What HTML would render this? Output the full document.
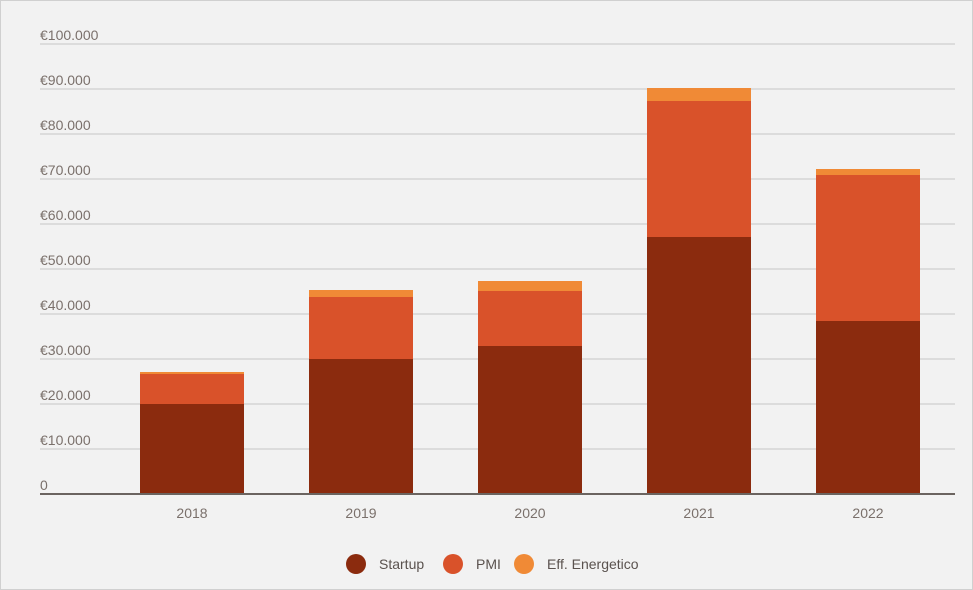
<!DOCTYPE html>
<html><head><style>
body{margin:0;background:#f2f2f2;}
svg{display:block;font-family:"Liberation Sans",sans-serif;}
</style></head><body>
<svg width="973" height="590" xmlns="http://www.w3.org/2000/svg">
<rect x="0.5" y="0.5" width="972" height="589" fill="#f2f2f2" stroke="#d0d0d0"/>
<g stroke="#dcdcdc" stroke-width="2">
<line x1="40" x2="955" y1="44" y2="44"/><line x1="40" x2="955" y1="89" y2="89"/>
<line x1="40" x2="955" y1="134" y2="134"/><line x1="40" x2="955" y1="179" y2="179"/>
<line x1="40" x2="955" y1="224" y2="224"/><line x1="40" x2="955" y1="269" y2="269"/>
<line x1="40" x2="955" y1="314" y2="314"/><line x1="40" x2="955" y1="359" y2="359"/>
<line x1="40" x2="955" y1="404" y2="404"/><line x1="40" x2="955" y1="449" y2="449"/>
</g>
<g fill="#7a706b" font-size="14">
<text x="40" y="40">€100.000</text><text x="40" y="85">€90.000</text>
<text x="40" y="130">€80.000</text><text x="40" y="175">€70.000</text>
<text x="40" y="220">€60.000</text><text x="40" y="265">€50.000</text>
<text x="40" y="310">€40.000</text><text x="40" y="355">€30.000</text>
<text x="40" y="400">€20.000</text><text x="40" y="445">€10.000</text>
<text x="40" y="490">0</text>
</g>
<g>
<rect x="140" y="372" width="104" height="2" fill="#f08a36"/>
<rect x="140" y="374" width="104" height="30" fill="#d9522a"/>
<rect x="140" y="404" width="104" height="90" fill="#8b2b0e"/>
<rect x="309" y="290" width="104" height="7" fill="#f08a36"/>
<rect x="309" y="297" width="104" height="62" fill="#d9522a"/>
<rect x="309" y="359" width="104" height="135" fill="#8b2b0e"/>
<rect x="478" y="281" width="104" height="10" fill="#f08a36"/>
<rect x="478" y="291" width="104" height="55" fill="#d9522a"/>
<rect x="478" y="346" width="104" height="148" fill="#8b2b0e"/>
<rect x="647" y="88" width="104" height="13" fill="#f08a36"/>
<rect x="647" y="101" width="104" height="136" fill="#d9522a"/>
<rect x="647" y="237" width="104" height="257" fill="#8b2b0e"/>
<rect x="816" y="169" width="104" height="6" fill="#f08a36"/>
<rect x="816" y="175" width="104" height="146" fill="#d9522a"/>
<rect x="816" y="321" width="104" height="173" fill="#8b2b0e"/>
</g>
<line x1="40" x2="955" y1="494" y2="494" stroke="#6b6460" stroke-width="2"/>
<g fill="#7a706b" font-size="14" text-anchor="middle">
<text x="192" y="518">2018</text><text x="361" y="518">2019</text>
<text x="530" y="518">2020</text><text x="699" y="518">2021</text>
<text x="868" y="518">2022</text>
</g>
<g font-size="14" fill="#5a524e">
<circle cx="356" cy="564" r="10" fill="#8b2b0e"/><text x="379" y="569">Startup</text>
<circle cx="453" cy="564" r="10" fill="#d9522a"/><text x="476" y="569">PMI</text>
<circle cx="524" cy="564" r="10" fill="#f08a36"/><text x="547" y="569">Eff. Energetico</text>
</g>
</svg>
</body></html>
